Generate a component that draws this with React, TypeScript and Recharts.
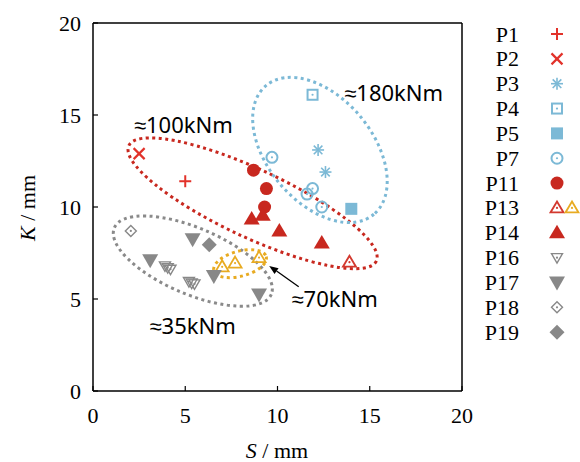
import React from "react";
import { ScatterChart, Scatter, XAxis, YAxis, ReferenceLine, ReferenceArea, ReferenceDot } from "recharts";

// measured points, S / mm vs K / mm
const p1 = [{ s: 5.0, k: 11.4 }];
const p2 = [{ s: 2.5, k: 12.9 }];
const p3 = [{ s: 12.2, k: 13.1 }, { s: 12.6, k: 11.9 }];
const p4 = [{ s: 11.9, k: 16.1 }];
const p5 = [{ s: 14.0, k: 9.9 }];
const p7 = [{ s: 9.7, k: 12.7 }, { s: 11.9, k: 11.0 }, { s: 11.6, k: 10.7 }, { s: 12.4, k: 10.0 }];
const p11 = [{ s: 8.7, k: 12.0 }, { s: 9.4, k: 11.0 }, { s: 9.3, k: 10.0 }];
const p13red = [{ s: 13.9, k: 7.0 }];
const p13yellow = [{ s: 7.0, k: 6.75 }, { s: 7.7, k: 6.95 }, { s: 9.0, k: 7.25 }];
const p14 = [{ s: 8.6, k: 9.35 }, { s: 9.2, k: 9.55 }, { s: 10.1, k: 8.7 }, { s: 12.4, k: 8.05 }];
const p16 = [
  { s: 3.9, k: 6.8 }, { s: 4.05, k: 6.7 }, { s: 4.2, k: 6.62 },
  { s: 5.2, k: 5.95 }, { s: 5.35, k: 5.87 }, { s: 5.5, k: 5.82 },
];
const p17 = [{ s: 3.1, k: 7.1 }, { s: 5.4, k: 8.25 }, { s: 6.55, k: 6.25 }, { s: 9.0, k: 5.25 }];
const p18 = [{ s: 2.05, k: 8.7 }];
const p19 = [{ s: 6.3, k: 7.95 }];

const ticks = [0, 5, 10, 15, 20];

// torque groups: centre, semi-axes (data units), tilt in degrees
const groups = [
  { label: "≈100kNm", cs: 8.65, ck: 10.2, a: 7.4, b: 1.85, tilt: -25, ls: 4.9, lk: 14.5 },
  { label: "≈180kNm", cs: 12.3, ck: 13.1, a: 4.55, b: 2.85, tilt: -50, ls: 16.3, lk: 16.25 },
  { label: "≈35kNm", cs: 5.41, ck: 7.06, a: 4.62, b: 1.8, tilt: -23, ls: 5.4, lk: 3.6 },
  { label: "≈70kNm", cs: 7.97, ck: 6.92, a: 1.47, b: 0.68, tilt: 15, ls: 13.1, lk: 5.07 },
];
const groupColors = ["#c8281f", "#7cb9d6", "#8a8a8a", "#e8ab22"];
const arrow = [{ s: 11.15, k: 5.67 }, { s: 9.55, k: 6.8 }];

const RED = "#e2322a";
const DARKRED = "#c8281f";
const BLUE = "#7cb9d6";
const GRAY = "#888888";
const YELLOW = "#e8ab22";

type Kind =
  | "plus" | "cross" | "star" | "squareOpen" | "square" | "circleOpen" | "circle"
  | "triOpen" | "tri" | "triDownOpen" | "triDown" | "diamondOpen" | "diamond";

function Marker({ kind, x, y, color }: { kind: Kind; x: number; y: number; color: string }) {
  const dot = <circle cx={x} cy={y} r={1.1} fill={color} />;
  switch (kind) {
    case "plus":
      return (
        <g stroke={color} strokeWidth={2}>
          <line x1={x - 6} y1={y} x2={x + 6} y2={y} />
          <line x1={x} y1={y - 6} x2={x} y2={y + 6} />
        </g>
      );
    case "cross":
      return (
        <g stroke={color} strokeWidth={2.2}>
          <line x1={x - 5.5} y1={y - 5.5} x2={x + 5.5} y2={y + 5.5} />
          <line x1={x - 5.5} y1={y + 5.5} x2={x + 5.5} y2={y - 5.5} />
        </g>
      );
    case "star":
      return (
        <g stroke={color} strokeWidth={1.6}>
          <line x1={x - 6} y1={y} x2={x + 6} y2={y} />
          <line x1={x} y1={y - 6} x2={x} y2={y + 6} />
          <line x1={x - 4.3} y1={y - 4.3} x2={x + 4.3} y2={y + 4.3} />
          <line x1={x - 4.3} y1={y + 4.3} x2={x + 4.3} y2={y - 4.3} />
        </g>
      );
    case "squareOpen":
      return (
        <g>
          <rect x={x - 5} y={y - 5} width={10} height={10} fill="none" stroke={color} strokeWidth={2} />
          {dot}
        </g>
      );
    case "square":
      return <rect x={x - 6} y={y - 6} width={12} height={12} fill={color} />;
    case "circleOpen":
      return (
        <g>
          <circle cx={x} cy={y} r={5.5} fill="none" stroke={color} strokeWidth={2} />
          {dot}
        </g>
      );
    case "circle":
      return <circle cx={x} cy={y} r={6.5} fill={color} />;
    case "triOpen":
      return (
        <g>
          <polygon points={`${x},${y - 6.5} ${x + 6.5},${y + 4.5} ${x - 6.5},${y + 4.5}`} fill="none" stroke={color} strokeWidth={1.8} />
          {dot}
        </g>
      );
    case "tri":
      return <polygon points={`${x},${y - 8} ${x + 8},${y + 5.5} ${x - 8},${y + 5.5}`} fill={color} />;
    case "triDownOpen":
      return (
        <g>
          <polygon points={`${x - 5.5},${y - 4} ${x + 5.5},${y - 4} ${x},${y + 5.5}`} fill="none" stroke={color} strokeWidth={1.4} />
          {dot}
        </g>
      );
    case "triDown":
      return <polygon points={`${x - 8},${y - 6} ${x + 8},${y - 6} ${x},${y + 8}`} fill={color} />;
    case "diamondOpen":
      return (
        <g>
          <polygon points={`${x},${y - 5.5} ${x + 5.5},${y} ${x},${y + 5.5} ${x - 5.5},${y}`} fill="none" stroke={color} strokeWidth={1.4} />
          {dot}
        </g>
      );
    case "diamond":
      return <polygon points={`${x},${y - 7.5} ${x + 7.5},${y} ${x},${y + 7.5} ${x - 7.5},${y}`} fill={color} />;
  }
  return null;
}

const series: { name: string; data: { s: number; k: number }[]; kind: Kind; color: string }[] = [
  { name: "P1", data: p1, kind: "plus", color: RED },
  { name: "P2", data: p2, kind: "cross", color: RED },
  { name: "P3", data: p3, kind: "star", color: BLUE },
  { name: "P4", data: p4, kind: "squareOpen", color: BLUE },
  { name: "P5", data: p5, kind: "square", color: BLUE },
  { name: "P7", data: p7, kind: "circleOpen", color: BLUE },
  { name: "P11", data: p11, kind: "circle", color: DARKRED },
  { name: "P13", data: p13red, kind: "triOpen", color: "#d3392f" },
  { name: "P13y", data: p13yellow, kind: "triOpen", color: YELLOW },
  { name: "P14", data: p14, kind: "tri", color: DARKRED },
  { name: "P16", data: p16, kind: "triDownOpen", color: GRAY },
  { name: "P17", data: p17, kind: "triDown", color: GRAY },
  { name: "P18", data: p18, kind: "diamondOpen", color: GRAY },
  { name: "P19", data: p19, kind: "diamond", color: GRAY },
];

const SERIF = "'Liberation Serif', 'Times New Roman', serif";
const tickStyle = { fontFamily: SERIF, fontSize: 22, fill: "#000" };

export default function App() {
  const legendRows = series.filter((s) => s.name !== "P13y");
  return (
    <div style={{ position: "absolute", left: 0, top: 0, width: 580, height: 462, background: "#fff" }}>
      <ScatterChart width={580} height={462} margin={{ top: 23, right: 118, bottom: 41, left: 43 }}>
        <XAxis
          type="number"
          dataKey="s"
          domain={[0, 20]}
          ticks={ticks}
          height={30}
          tickSize={-5}
          tickMargin={21}
          axisLine={{ stroke: "#000", strokeWidth: 1.5 }}
          tickLine={{ stroke: "#000", strokeWidth: 1.2 }}
          tick={tickStyle}
        />
        <YAxis
          type="number"
          dataKey="k"
          domain={[0, 20]}
          ticks={ticks}
          width={50}
          tickSize={-5}
          tickMargin={17}
          axisLine={{ stroke: "#000", strokeWidth: 1.5 }}
          tickLine={{ stroke: "#000", strokeWidth: 1.2 }}
          tick={tickStyle}
        />
        <ReferenceLine y={20} stroke="#000" strokeWidth={1.5} />
        <ReferenceLine x={20} stroke="#000" strokeWidth={1.5} />
        {groups.map((g, i) => (
          <ReferenceArea
            key={g.label}
            x1={g.cs - g.a}
            x2={g.cs + g.a}
            y1={g.ck - g.b}
            y2={g.ck + g.b}
            ifOverflow="visible"
            shape={(p: any) => {
              const cx = p.x + p.width / 2;
              const cy = p.y + p.height / 2;
              return (
                <ellipse
                  cx={cx}
                  cy={cy}
                  rx={Math.abs(p.width) / 2}
                  ry={Math.abs(p.height) / 2}
                  transform={`rotate(${-g.tilt} ${cx} ${cy})`}
                  fill="none"
                  stroke={groupColors[i]}
                  strokeWidth={3}
                  strokeDasharray="3 3.5"
                />
              );
            }}
          />
        ))}
        <ReferenceLine
          segment={[{ x: arrow[0].s, y: arrow[0].k }, { x: arrow[1].s, y: arrow[1].k }]}
          ifOverflow="visible"
          shape={(p: any) => {
            const dx = p.x2 - p.x1;
            const dy = p.y2 - p.y1;
            const len = Math.hypot(dx, dy) || 1;
            const ux = dx / len;
            const uy = dy / len;
            const bx = p.x2 - ux * 9;
            const by = p.y2 - uy * 9;
            return (
              <g>
                <line x1={p.x1} y1={p.y1} x2={bx} y2={by} stroke="#000" strokeWidth={1.3} />
                <polygon
                  points={`${p.x2},${p.y2} ${bx - uy * 3.5},${by + ux * 3.5} ${bx + uy * 3.5},${by - ux * 3.5}`}
                  fill="#000"
                />
              </g>
            );
          }}
        />
        {groups.map((g) => (
          <ReferenceDot
            key={"l" + g.label}
            x={g.ls}
            y={g.lk}
            r={1}
            ifOverflow="visible"
            shape={(p: any) => (
              <text
                x={p.cx}
                y={p.cy}
                textAnchor="middle"
                dominantBaseline="central"
                fontFamily="'Noto Sans', sans-serif"
                fontSize={22}
                fill="#000"
              >
                {g.label}
              </text>
            )}
          />
        ))}
        {series.map((sr) => (
          <Scatter
            key={sr.name}
            name={sr.name}
            data={sr.data}
            isAnimationActive={false}
            shape={(p: any) => <Marker kind={sr.kind} x={p.cx} y={p.cy} color={sr.color} />}
          />
        ))}
      </ScatterChart>
      <svg
        width={580}
        height={462}
        style={{ position: "absolute", left: 0, top: 0, pointerEvents: "none" }}
      >
        <text x={277} y={458} textAnchor="middle" fontFamily={SERIF} fontSize={22} fill="#000">
          <tspan fontStyle="italic">S</tspan> / mm
        </text>
        <text
          x={0}
          y={0}
          transform="translate(35 208) rotate(-90)"
          textAnchor="middle"
          fontFamily={SERIF}
          fontSize={22}
          fill="#000"
        >
          <tspan fontStyle="italic">K</tspan> / mm
        </text>
        {legendRows.map((sr, i) => {
          const y = 34 + i * 24.85;
          return (
            <g key={sr.name}>
              <text x={519} y={y} textAnchor="end" dominantBaseline="central" fontFamily={SERIF} fontSize={22} fill="#000">
                {sr.name}
              </text>
              <Marker kind={sr.kind} x={557} y={y} color={sr.color} />
              {sr.name === "P13" && <Marker kind="triOpen" x={572} y={y} color={YELLOW} />}
            </g>
          );
        })}
      </svg>
    </div>
  );
}
